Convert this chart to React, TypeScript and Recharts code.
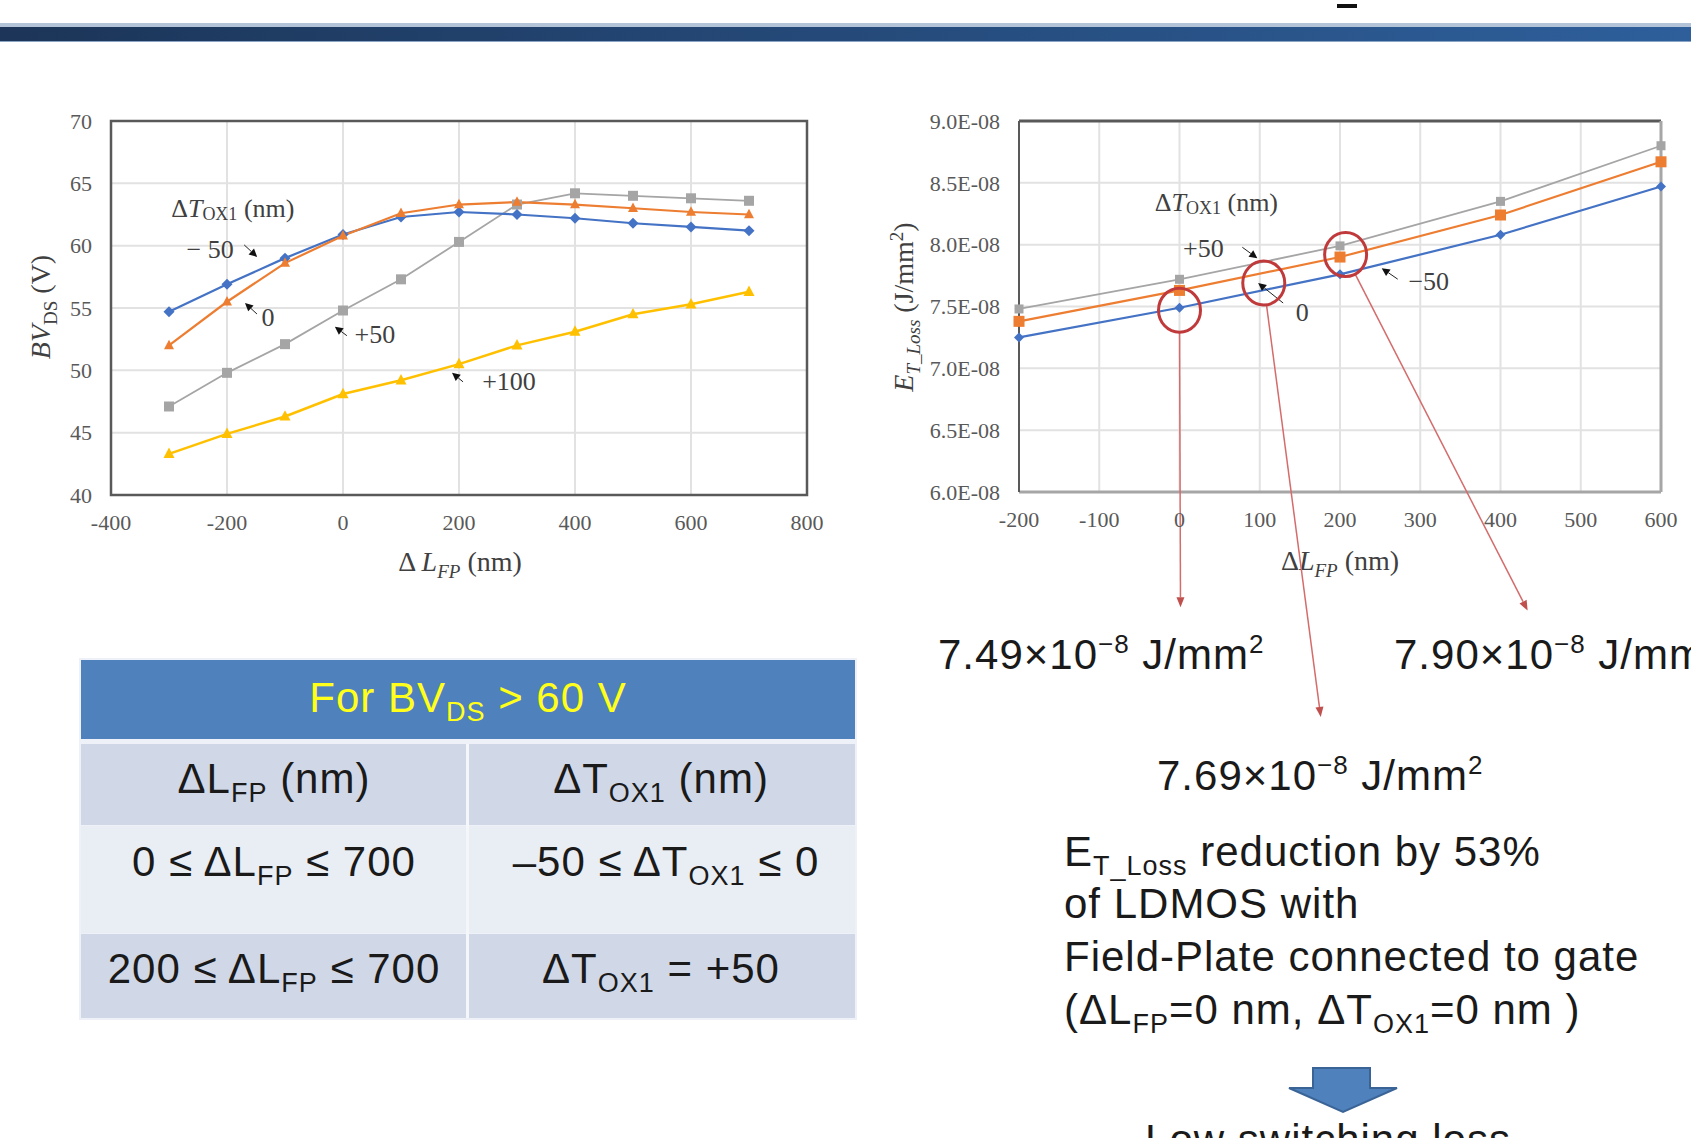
import React from 'react';
import {
  LineChart,
  Line,
  XAxis,
  YAxis,
  CartesianGrid,
  ReferenceArea,
  ReferenceDot,
  ReferenceLine,
} from 'recharts';

// BV_DS (V) vs ΔL_FP (nm), one series per ΔT_OX1
const lfpSteps = [-300, -200, -100, 0, 100, 200, 300, 400, 500, 600, 700];
const bvToxMinus50 = [54.7, 56.9, 59.0, 60.9, 62.3, 62.7, 62.5, 62.2, 61.8, 61.5, 61.2];
const bvTox0 = [52.0, 55.5, 58.6, 60.8, 62.6, 63.3, 63.5, 63.3, 63.0, 62.7, 62.5];
const bvToxPlus50 = [47.1, 49.8, 52.1, 54.8, 57.3, 60.3, 63.3, 64.2, 64.0, 63.8, 63.6];
const bvToxPlus100 = [43.3, 44.9, 46.3, 48.1, 49.2, 50.5, 52.0, 53.1, 54.5, 55.3, 56.3];
const bvXTicks = [-400, -200, 0, 200, 400, 600, 800];
const bvYTicks = [40, 45, 50, 55, 60, 65, 70];

// E_T_Loss in units of 1E-08 J/mm²
const lossLfp = [-200, 0, 200, 400, 600];
const lossToxMinus50 = [7.25, 7.49, 7.76, 8.08, 8.47];
const lossTox0 = [7.38, 7.63, 7.9, 8.24, 8.67];
const lossToxPlus50 = [7.48, 7.72, 7.99, 8.35, 8.8];
const lossXTicks = [-200, -100, 0, 100, 200, 300, 400, 500, 600];
const lossYTicks = [6.0, 6.5, 7.0, 7.5, 8.0, 8.5, 9.0];

// circled operating points and where their red arrows land (px offset)
const lossPicks = [
  { x: 0, y: 7.47, ex: 1, ey: 297 },
  { x: 105, y: 7.69, ex: 57, ey: 434 },
  { x: 207, y: 7.92, ex: 182, ey: 356 },
];

const SERIF = '"Liberation Serif", "Times New Roman", serif';
const SANS = '"Liberation Sans", Arial, sans-serif';
const BLUE = '#4472c4';
const ORANGE = '#ed7d31';
const GRAY = '#a5a5a5';
const YELLOW = '#ffc000';

const bvData = lfpSteps.map((x, i) => ({
  x,
  m50: bvToxMinus50[i],
  z: bvTox0[i],
  p50: bvToxPlus50[i],
  p100: bvToxPlus100[i],
}));

const lossData = lossLfp.map((x, i) => ({
  x,
  m50: lossToxMinus50[i],
  z: lossTox0[i],
  p50: lossToxPlus50[i],
}));

const toxLabel = (
  <>
    {'Δ'}
    <tspan fontStyle="italic">T</tspan>
    <tspan fontSize={18} baselineShift="-6">OX1</tspan>
    {' (nm)'}
  </>
);

const bvCallouts = [
  { x: -190, y: 63.0, text: toxLabel, lx: 0, ly: 0 },
  { x: -148, y: 59.1, text: '− 50', lx: -47, ly: -7, ax: -13, ay: -12 },
  { x: -169, y: 55.4, text: '0', lx: 23, ly: 14, ax: 12, ay: 11 },
  { x: -14, y: 53.5, text: '+50', lx: 40, ly: 8, ax: 12, ay: 9 },
  { x: 188, y: 49.8, text: '+100', lx: 57, ly: 9, ax: 11, ay: 9 },
];

const lossCallouts = [
  { x: 46, y: 8.345, text: toxLabel, lx: 0, ly: 0 },
  { x: 97, y: 7.89, text: '+50', lx: -54, ly: -10, ax: -15, ay: -11 },
  { x: 98, y: 7.69, text: '0', lx: 44, ly: 29, ax: 25, ay: 20 },
  { x: 252, y: 7.81, text: '−50', lx: 47, ly: 13, ax: 16, ay: 11 },
];

function Mark({ cx, cy, kind, color, s }: any) {
  if (cx == null || cy == null) return null;
  if (kind === 'diamond')
    return <polygon points={`${cx},${cy - s} ${cx + s},${cy} ${cx},${cy + s} ${cx - s},${cy}`} fill={color} />;
  if (kind === 'square')
    return <rect x={cx - s} y={cy - s} width={s * 2} height={s * 2} fill={color} />;
  return (
    <polygon
      points={`${cx},${cy - s * 1.15} ${cx + s},${cy + s * 0.75} ${cx - s},${cy + s * 0.75}`}
      fill={color}
    />
  );
}

const dotOf = (kind: string, color: string, s: number) => (p: any) =>
  <Mark key={`m-${p.index}`} cx={p.cx} cy={p.cy} kind={kind} color={color} s={s} />;

function Callout({ cx, cy, text, lx, ly, ax, ay }: any) {
  let arrow = null;
  if (ax !== undefined) {
    const len = Math.hypot(ax, ay);
    const ux = -ax / len;
    const uy = -ay / len;
    const bx = cx - ux * 8;
    const by = cy - uy * 8;
    arrow = (
      <g>
        <line x1={cx + ax} y1={cy + ay} x2={bx} y2={by} stroke="#222" strokeWidth={1} />
        <polygon
          points={`${cx},${cy} ${bx - uy * 4},${by + ux * 4} ${bx + uy * 4},${by - ux * 4}`}
          fill="#111"
        />
      </g>
    );
  }
  return (
    <g>
      {arrow}
      <text
        x={cx + lx}
        y={cy + ly}
        textAnchor="middle"
        dominantBaseline="central"
        fontFamily={SERIF}
        fontSize={26}
        fill="#404040"
      >
        {text}
      </text>
    </g>
  );
}

function LossPick({ cx, cy, ex, ey }: any) {
  const rx = 21;
  const ry = 22;
  const ang = Math.atan2(ey, ex);
  const sx = cx + rx * Math.cos(ang);
  const sy = cy + ry * Math.sin(ang);
  const tx = cx + ex;
  const ty = cy + ey;
  const len = Math.hypot(tx - sx, ty - sy);
  const ux = (tx - sx) / len;
  const uy = (ty - sy) / len;
  const bx = tx - ux * 10;
  const by = ty - uy * 10;
  return (
    <g>
      <line x1={sx} y1={sy} x2={bx} y2={by} stroke="#d46c6c" strokeWidth={1.5} />
      <polygon
        points={`${tx},${ty} ${bx - uy * 4},${by + ux * 4} ${bx + uy * 4},${by - ux * 4}`}
        fill="#c0504d"
      />
      <ellipse cx={cx} cy={cy} rx={rx} ry={ry} fill="none" stroke="#c0393b" strokeWidth={3} />
    </g>
  );
}

const tickStyle = { fill: '#595959', fontSize: 22, fontFamily: SERIF };

function BvChart() {
  return (
    <LineChart width={830} height={500} data={bvData} margin={{ top: 21, right: 23, left: 61, bottom: 75 }}>
      <CartesianGrid stroke="#e2e2e2" strokeWidth={2} />
      <XAxis
        type="number"
        dataKey="x"
        domain={[-400, 800]}
        ticks={bvXTicks}
        interval={0}
        height={30}
        tickLine={false}
        axisLine={false}
        tickSize={0}
        tickMargin={19}
        tick={tickStyle}
      />
      <YAxis
        type="number"
        domain={[40, 70]}
        ticks={bvYTicks}
        interval={0}
        width={50}
        tickLine={false}
        axisLine={false}
        tickSize={0}
        tickMargin={19}
        tick={tickStyle}
      />
      <ReferenceArea x1={-400} x2={800} y1={40} y2={70} fill="none" fillOpacity={0} stroke="#595959" strokeWidth={2.5} />
      <Line dataKey="p100" stroke={YELLOW} strokeWidth={2.5} dot={dotOf('triangle', YELLOW, 5.5)} isAnimationActive={false} />
      <Line dataKey="p50" stroke={GRAY} strokeWidth={1.8} dot={dotOf('square', GRAY, 5)} isAnimationActive={false} />
      <Line dataKey="m50" stroke={BLUE} strokeWidth={2.2} dot={dotOf('diamond', BLUE, 5.5)} isAnimationActive={false} />
      <Line dataKey="z" stroke={ORANGE} strokeWidth={2.2} dot={dotOf('triangle', ORANGE, 5)} isAnimationActive={false} />
      {bvCallouts.map((c, i) => (
        <ReferenceDot key={`bc-${i}`} x={c.x} y={c.y} r={0} shape={(p: any) => <Callout cx={p.cx} cy={p.cy} {...c} />} />
      ))}
    </LineChart>
  );
}

function LossChart() {
  return (
    <LineChart width={811} height={640} data={lossData} margin={{ top: 21, right: 30, left: 59, bottom: 218 }}>
      <CartesianGrid stroke="#e2e2e2" strokeWidth={2} />
      <XAxis
        type="number"
        dataKey="x"
        domain={[-200, 600]}
        ticks={lossXTicks}
        interval={0}
        height={30}
        tickLine={false}
        axisLine={false}
        tickSize={0}
        tickMargin={19}
        tick={tickStyle}
      />
      <YAxis
        type="number"
        domain={[6.0, 9.0]}
        ticks={lossYTicks}
        interval={0}
        width={80}
        tickLine={false}
        axisLine={false}
        tickSize={0}
        tickMargin={19}
        tick={tickStyle}
        tickFormatter={(v: number) => `${v.toFixed(1)}E-08`}
      />
      <ReferenceLine y={9.0} stroke="#595959" strokeWidth={3} />
      <ReferenceLine x={600} stroke="#a6a6a6" strokeWidth={3} />
      <ReferenceLine y={6.0} stroke="#a6a6a6" strokeWidth={3} />
      <ReferenceLine x={-200} stroke="#595959" strokeWidth={2} />
      <Line dataKey="p50" stroke={GRAY} strokeWidth={1.8} dot={dotOf('square', GRAY, 4.5)} isAnimationActive={false} />
      <Line dataKey="z" stroke={ORANGE} strokeWidth={2.2} dot={dotOf('square', ORANGE, 5.5)} isAnimationActive={false} />
      <Line dataKey="m50" stroke={BLUE} strokeWidth={2.2} dot={dotOf('diamond', BLUE, 5)} isAnimationActive={false} />
      {lossCallouts.map((c, i) => (
        <ReferenceDot key={`lc-${i}`} x={c.x} y={c.y} r={0} shape={(p: any) => <Callout cx={p.cx} cy={p.cy} {...c} />} />
      ))}
      {lossPicks.map((c, i) => (
        <ReferenceDot key={`lp-${i}`} x={c.x} y={c.y} r={0} shape={(p: any) => <LossPick cx={p.cx} cy={p.cy} ex={c.ex} ey={c.ey} />} />
      ))}
    </LineChart>
  );
}

// slide text: subscripts / superscripts via baseline-shift
const Sub = ({ children }: any) => (
  <tspan fontSize={27} baselineShift="-9">{children}</tspan>
);
const Sup = ({ children }: any) => (
  <tspan fontSize={26} baselineShift="16">{children}</tspan>
);

function Slide() {
  const txt = { fontFamily: SANS, fontSize: 42, letterSpacing: 1, fill: '#1a1a1a' };
  const axisTitle = { fontFamily: SERIF, fontSize: 28, fill: '#404040' };
  return (
    <svg width={1691} height={1138} style={{ position: 'absolute', left: 0, top: 0 }}>
      <defs>
        <linearGradient id="bar" x1="0" x2="1" y1="0" y2="0">
          <stop offset="0" stopColor="#1c3558" />
          <stop offset="1" stopColor="#2e5f9b" />
        </linearGradient>
      </defs>
      <rect x={1337} y={4} width={20} height={4} fill="#111" />
      <rect x={0} y={23} width={1691} height={4} fill="#b4c4d8" />
      <rect x={0} y={27} width={1691} height={14} fill="url(#bar)" />
      <rect x={0} y={41} width={1691} height={1} fill="#8aa4c6" />

      {/* axis titles */}
      <text transform="translate(50,307) rotate(-90)" textAnchor="middle" {...axisTitle}>
        <tspan fontStyle="italic">BV</tspan>
        <tspan fontSize={19} baselineShift="-7">DS</tspan>
        {' (V)'}
      </text>
      <text x={460} y={571} textAnchor="middle" {...axisTitle}>
        {'Δ '}
        <tspan fontStyle="italic">L</tspan>
        <tspan fontSize={19} baselineShift="-7" fontStyle="italic">FP</tspan>
        {' (nm)'}
      </text>
      <text transform="translate(913,307) rotate(-90)" textAnchor="middle" {...axisTitle}>
        <tspan fontStyle="italic">E</tspan>
        <tspan fontSize={19} baselineShift="-7" fontStyle="italic">T_Loss</tspan>
        {' (J/mm'}
        <tspan fontSize={19} baselineShift="10">2</tspan>
        {')'}
      </text>
      <text x={1340} y={570} textAnchor="middle" {...axisTitle}>
        {'Δ'}
        <tspan fontStyle="italic">L</tspan>
        <tspan fontSize={19} baselineShift="-7" fontStyle="italic">FP</tspan>
        {' (nm)'}
      </text>

      {/* table */}
      <rect x={79} y={658} width={778} height={362} fill="#eef1f7" />
      <rect x={81} y={660} width={774} height={79} fill="#4f81bd" />
      <rect x={81} y={744} width={774} height={81} fill="#d0d8e8" />
      <rect x={81} y={826} width={774} height={107} fill="#e9edf4" />
      <rect x={81} y={934} width={774} height={84} fill="#d0d8e8" />
      <rect x={466} y={744} width={3} height={274} fill="#f4f6fa" />
      <text x={468} y={712} textAnchor="middle" {...txt} fill="#ffff1a">
        For BV<Sub>DS</Sub> &gt; 60 V
      </text>
      <text x={274} y={793} textAnchor="middle" {...txt}>
        ΔL<Sub>FP</Sub>{'  (nm)'}
      </text>
      <text x={661} y={793} textAnchor="middle" {...txt}>
        ΔT<Sub>OX1</Sub> (nm)
      </text>
      <text x={274} y={876} textAnchor="middle" {...txt}>
        0 ≤ ΔL<Sub>FP</Sub> ≤ 700
      </text>
      <text x={666} y={876} textAnchor="middle" {...txt}>
        {'–50  ≤ ΔT'}<Sub>OX1</Sub> ≤ 0
      </text>
      <text x={274} y={983} textAnchor="middle" {...txt}>
        {'200  ≤ ΔL'}<Sub>FP</Sub> ≤ 700
      </text>
      <text x={661} y={983} textAnchor="middle" {...txt}>
        ΔT<Sub>OX1</Sub> = +50
      </text>

      {/* values picked from the loss chart */}
      <text x={938} y={669} {...txt}>
        7.49×10<Sup>−8</Sup> J/mm<Sup>2</Sup>
      </text>
      <text x={1394} y={669} {...txt}>
        7.90×10<Sup>−8</Sup> J/mm<Sup>2</Sup>
      </text>
      <text x={1157} y={790} {...txt}>
        7.69×10<Sup>−8</Sup> J/mm<Sup>2</Sup>
      </text>

      <text x={1064} y={866} {...txt}>
        E<Sub>T_Loss</Sub> reduction by 53%
      </text>
      <text x={1064} y={918} {...txt}>of LDMOS with</text>
      <text x={1064} y={971} {...txt}>Field-Plate connected to gate</text>
      <text x={1064} y={1024} {...txt}>
        (ΔL<Sub>FP</Sub>=0 nm, ΔT<Sub>OX1</Sub>=0 nm )
      </text>

      <polygon
        points="1313,1068 1370,1068 1370,1088 1397,1088 1343,1112 1289,1088 1313,1088"
        fill="#4f81bd"
        stroke="#3a6496"
        strokeWidth={2}
      />
      <text x={1328} y={1154} textAnchor="middle" {...txt}>Low switching loss</text>
    </svg>
  );
}

export default function App() {
  return (
    <div
      style={{
        position: 'absolute',
        left: 0,
        top: 0,
        width: 1691,
        height: 1138,
        overflow: 'hidden',
        background: '#fff',
      }}
    >
      <Slide />
      <div style={{ position: 'absolute', left: 0, top: 100 }}>
        <BvChart />
      </div>
      <div style={{ position: 'absolute', left: 880, top: 100 }}>
        <LossChart />
      </div>
    </div>
  );
}
